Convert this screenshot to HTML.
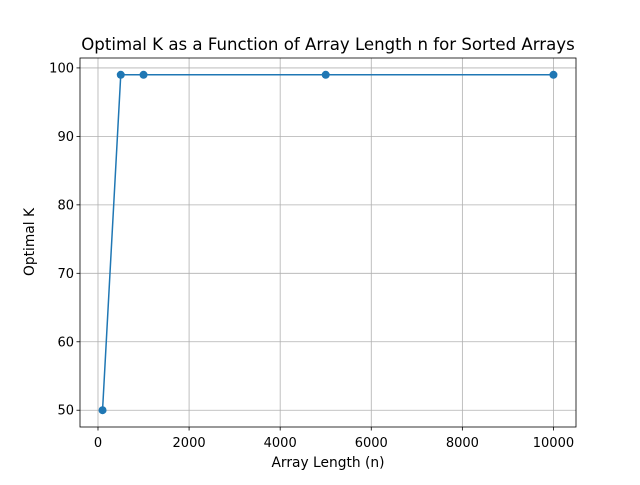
<!DOCTYPE html>
<html><head><meta charset="utf-8">
<style>
body{margin:0;background:#fff;}
svg text{font-family:"DejaVu Sans","Liberation Sans",sans-serif;fill:#000;}
</style></head>
<body>
<svg id="chart" width="640" height="480" xmlns="http://www.w3.org/2000/svg">
<rect width="640" height="480" fill="#fff"/>
<g id="grid"></g>
<g id="ticks"></g>
<g id="series"></g>
<rect x="80" y="58" width="496" height="369" fill="none" stroke="#000" stroke-width="0.8"/>
<text x="328" y="50" text-anchor="middle" font-size="16.6">Optimal K as a Function of Array Length n for Sorted Arrays</text>
<text x="328" y="467" text-anchor="middle" font-size="13.8">Array Length (n)</text>
<text x="34" y="242" text-anchor="middle" font-size="13.8" transform="rotate(-90 34 242)">Optimal K</text>
</svg>
<script>
const categories = [100, 500, 1000, 5000, 10000];
const values = [50, 99, 99, 99, 99];
const xTicks = [0, 2000, 4000, 6000, 8000, 10000];
const yTicks = [50, 60, 70, 80, 90, 100];

const L=80,R=576,T=58,B=427;
const xmin=-395,xmax=10495,ymin=47.55,ymax=101.45;
const X=v=>L+(v-xmin)/(xmax-xmin)*(R-L);
const Y=v=>B-(v-ymin)/(ymax-ymin)*(B-T);
const NS="http://www.w3.org/2000/svg";
function mk(tag,attrs,parent){const e=document.createElementNS(NS,tag);for(const k in attrs)e.setAttribute(k,attrs[k]);document.getElementById(parent).appendChild(e);return e;}

xTicks.forEach(t=>{
  const x=X(t);
  const g=mk('line',{x1:x,x2:x,y1:T,y2:B,stroke:'#b0b0b0','stroke-width':0.8},'grid');
  
  
  const tk=mk('line',{x1:x,x2:x,y1:B,y2:B+3.5,stroke:'#000','stroke-width':0.8},'ticks');
  
  
  const tx=mk('text',{x:x,y:B+20,'text-anchor':'middle','font-size':13},'ticks');
  tx.textContent=t;
  
  
});
yTicks.forEach(t=>{
  const y=Y(t);
  const g=mk('line',{x1:L,x2:R,y1:y,y2:y,stroke:'#b0b0b0','stroke-width':0.8},'grid');
  
  
  const tk=mk('line',{x1:L-3.5,x2:L,y1:y,y2:y,stroke:'#000','stroke-width':0.8},'ticks');
  
  
  const tx=mk('text',{x:L-6,y:y+4.5,'text-anchor':'end','font-size':13},'ticks');
  tx.textContent=t;
  
  
});
const pts=categories.map((c,i)=>X(c)+','+Y(values[i])).join(' ');
const line=mk('polyline',{points:pts,fill:'none',stroke:'#1f77b4','stroke-width':1.5},'series');


categories.forEach((c,i)=>{
  const p=mk('circle',{cx:X(c),cy:Y(values[i]),r:4,fill:'#1f77b4'},'series');
  
  
});
</script>
</body></html>
